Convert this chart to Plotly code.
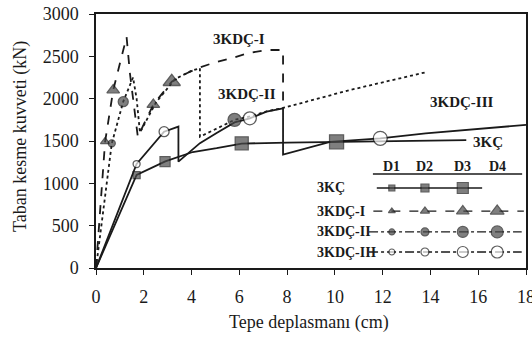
import plotly.graph_objects as go

# ---- data ----
kc_x = [0, 1.7, 2.9, 4.05, 5.05, 6.1, 8.0, 10.07, 12.0, 15.5]
kc_y = [0, 1100, 1260, 1370, 1415, 1470, 1480, 1490, 1500, 1510]
kc_mx = [1.7, 2.89, 6.1, 10.07]
kc_my = [1098, 1256, 1472, 1490]

k1_x = [0, 0.38, 0.72, 1.28, 1.42, 1.75, 2.4, 3.17, 3.8, 4.35, 5.0, 5.7, 6.4, 7.14, 7.83, 7.83]
k1_y = [0, 1490, 2100, 2730, 2300, 1550, 1930, 2200, 2300, 2370, 2430, 2480, 2540, 2575, 2575, 1880]
k1_mx = [0.38, 0.72, 2.4, 3.17]
k1_my = [1492, 2102, 1930, 2200]

k2_x = [0, 0.66, 1.14, 1.55, 1.7, 1.84, 2.5, 3.3, 4.0, 4.35, 4.35, 5.0, 5.8, 6.44, 7.14, 7.83, 10.6, 13.85]
k2_y = [0, 1470, 1965, 2250, 2000, 1600, 1950, 2230, 2330, 2360, 1550, 1640, 1750, 1790, 1850, 1890, 2100, 2315]
k2_mx = [0.66, 1.14, 5.8]
k2_my = [1472, 1964, 1750]

k3_x = [0, 1.7, 2.85, 3.45, 3.45, 4.35, 5.05, 5.8, 6.44, 7.14, 7.83, 7.83, 9.8, 11.9, 13.8, 18.0]
k3_y = [0, 1228, 1610, 1670, 1256, 1475, 1594, 1720, 1768, 1846, 1886, 1340, 1490, 1532, 1590, 1690]
k3_mx = [1.7, 2.85, 6.44, 11.9]
k3_my = [1228, 1610, 1768, 1532]

series_names = ["3KÇ", "3KDÇ-I", "3KDÇ-II", "3KDÇ-III"]
curve_labels = ["3KDÇ-I", "3KDÇ-II", "3KDÇ-III", "3KÇ"]
curve_label_x = [6.0, 6.3, 15.3, 16.4]
curve_label_y = [2710, 2060, 1960, 1490]
stage_labels = ["D1", "D2", "D3", "D4"]
x_ticks = [0, 2, 4, 6, 8, 10, 12, 14, 16, 18]
y_ticks = [0, 500, 1000, 1500, 2000, 2500, 3000]
x_title = "Tepe deplasmanı (cm)"
y_title = "Taban kesme kuvveti (kN)"

# ---- styles ----
INK = "#1a1a1a"
FILL = "#4a4a4a"
FONT = "Liberation Serif"
marker_sizes = [7, 10, 13, 14]
tri_sizes = [8, 11, 11, 15]

W, H = 532, 342
ML, MR, MT, MB = 96, 6, 14, 74

fig = go.Figure()

def curve(x, y, dash):
    fig.add_trace(go.Scatter(x=x, y=y, mode="lines",
                             line=dict(color=INK, width=1.8, dash=dash),
                             showlegend=False, hoverinfo="skip"))

def marks(x, y, symbol, sizes, fill):
    fig.add_trace(go.Scatter(x=x, y=y, mode="markers",
                             marker=dict(symbol=symbol, size=sizes[:len(x)], color=fill,
                                         line=dict(color=INK, width=1.3)),
                             showlegend=False, hoverinfo="skip"))

curve(kc_x, kc_y, "solid")
curve(k1_x, k1_y, "dash")
curve(k2_x, k2_y, "dot")
curve(k3_x, k3_y, "solid")
marks(kc_mx, kc_my, "square", marker_sizes, FILL)
marks(k1_mx, k1_my, "triangle-up", tri_sizes, FILL)
marks(k2_mx, k2_my, "circle", marker_sizes, FILL)
marks(k3_mx, k3_my, "circle", marker_sizes, "white")

for t, x, y in zip(curve_labels, curve_label_x, curve_label_y):
    fig.add_annotation(x=x, y=y, text="<b>%s</b>" % t, showarrow=False,
                       font=dict(family=FONT, size=15, color=INK))

# ---- legend table drawn in an overlay axis spanning the plot area ----
leg_col_x = [0.688, 0.765, 0.853, 0.933]
leg_row_y = [0.315, 0.224, 0.142, 0.063]
leg_head_y = 0.398
leg_line_x0 = [0.653, 0.645, 0.635, 0.635]
leg_line_x1 = [0.898, 0.995, 0.99, 0.99]
leg_ncols = [3, 4, 4, 4]
leg_dash = ["solid", "dash", "dashdot", "dashdot"]
leg_sym = ["square", "triangle-up", "circle", "circle"]
leg_fill = [FILL, FILL, FILL, "white"]
leg_sizes = [6, 8, 11, 12]

for i, name in enumerate(series_names):
    fig.add_trace(go.Scatter(x=[leg_line_x0[i], leg_line_x1[i]], y=[leg_row_y[i]] * 2,
                             mode="lines", line=dict(color=INK, width=1.3, dash=leg_dash[i]),
                             xaxis="x2", yaxis="y2", showlegend=False, hoverinfo="skip"))
    n = leg_ncols[i]
    fig.add_trace(go.Scatter(x=leg_col_x[:n], y=[leg_row_y[i]] * n, mode="markers",
                             marker=dict(symbol=leg_sym[i], size=leg_sizes[:n], color=leg_fill[i],
                                         line=dict(color=INK, width=1.2)),
                             xaxis="x2", yaxis="y2", showlegend=False, hoverinfo="skip"))
    fig.add_annotation(x=0.509, y=leg_row_y[i], xref="x2", yref="y2", text="<b>%s</b>" % name,
                       showarrow=False, xanchor="left",
                       font=dict(family=FONT, size=14, color=INK))

for lab, x in zip(stage_labels, leg_col_x):
    fig.add_annotation(x=x, y=leg_head_y, xref="x2", yref="y2", text="<b>%s</b>" % lab,
                       showarrow=False, font=dict(family=FONT, size=14, color=INK))
fig.add_shape(type="line", xref="x2", yref="y2", x0=0.644, x1=0.991, y0=0.37, y1=0.37,
              line=dict(color=INK, width=1.3))

# axis titles placed as paper annotations
pw, ph = W - ML - MR, H - MT - MB
fig.add_annotation(xref="paper", yref="paper", x=(309 - ML) / pw, y=(H - MB - 322) / ph,
                   xanchor="center", yanchor="middle",
                   text=x_title, showarrow=False,
                   font=dict(family=FONT, size=18, color=INK))
fig.add_annotation(xref="paper", yref="paper", x=(20 - ML) / pw, y=(H - MB - 137) / ph,
                   xanchor="center", yanchor="middle",
                   text=y_title, showarrow=False, textangle=-90,
                   font=dict(family=FONT, size=18, color=INK))

axis_common = dict(ticks="outside", ticklen=5, tickcolor=INK, showgrid=False, zeroline=False,
                   showline=True, linecolor=INK, linewidth=1.5, mirror=True, automargin=False,
                   ticklabeloverflow="allow",
                   tickfont=dict(family=FONT, size=18, color=INK))

fig.update_layout(
    width=W, height=H,
    margin=dict(l=ML, r=MR, t=MT, b=MB, autoexpand=False),
    paper_bgcolor="white", plot_bgcolor="white",
    font=dict(family=FONT, color=INK),
    xaxis=dict(range=[0, 18], tickvals=x_ticks, ticklabelstandoff=7, **axis_common),
    yaxis=dict(range=[0, 3000], tickvals=y_ticks, ticklabelstandoff=7, **axis_common),
    xaxis2=dict(range=[0, 1], overlaying="x", visible=False, fixedrange=True),
    yaxis2=dict(range=[0, 1], overlaying="y", visible=False, fixedrange=True),
)

fig.write_html("out.html", config={"displayModeBar": False},
               post_script="document.body.style.margin='0';document.body.style.overflow='hidden';")
